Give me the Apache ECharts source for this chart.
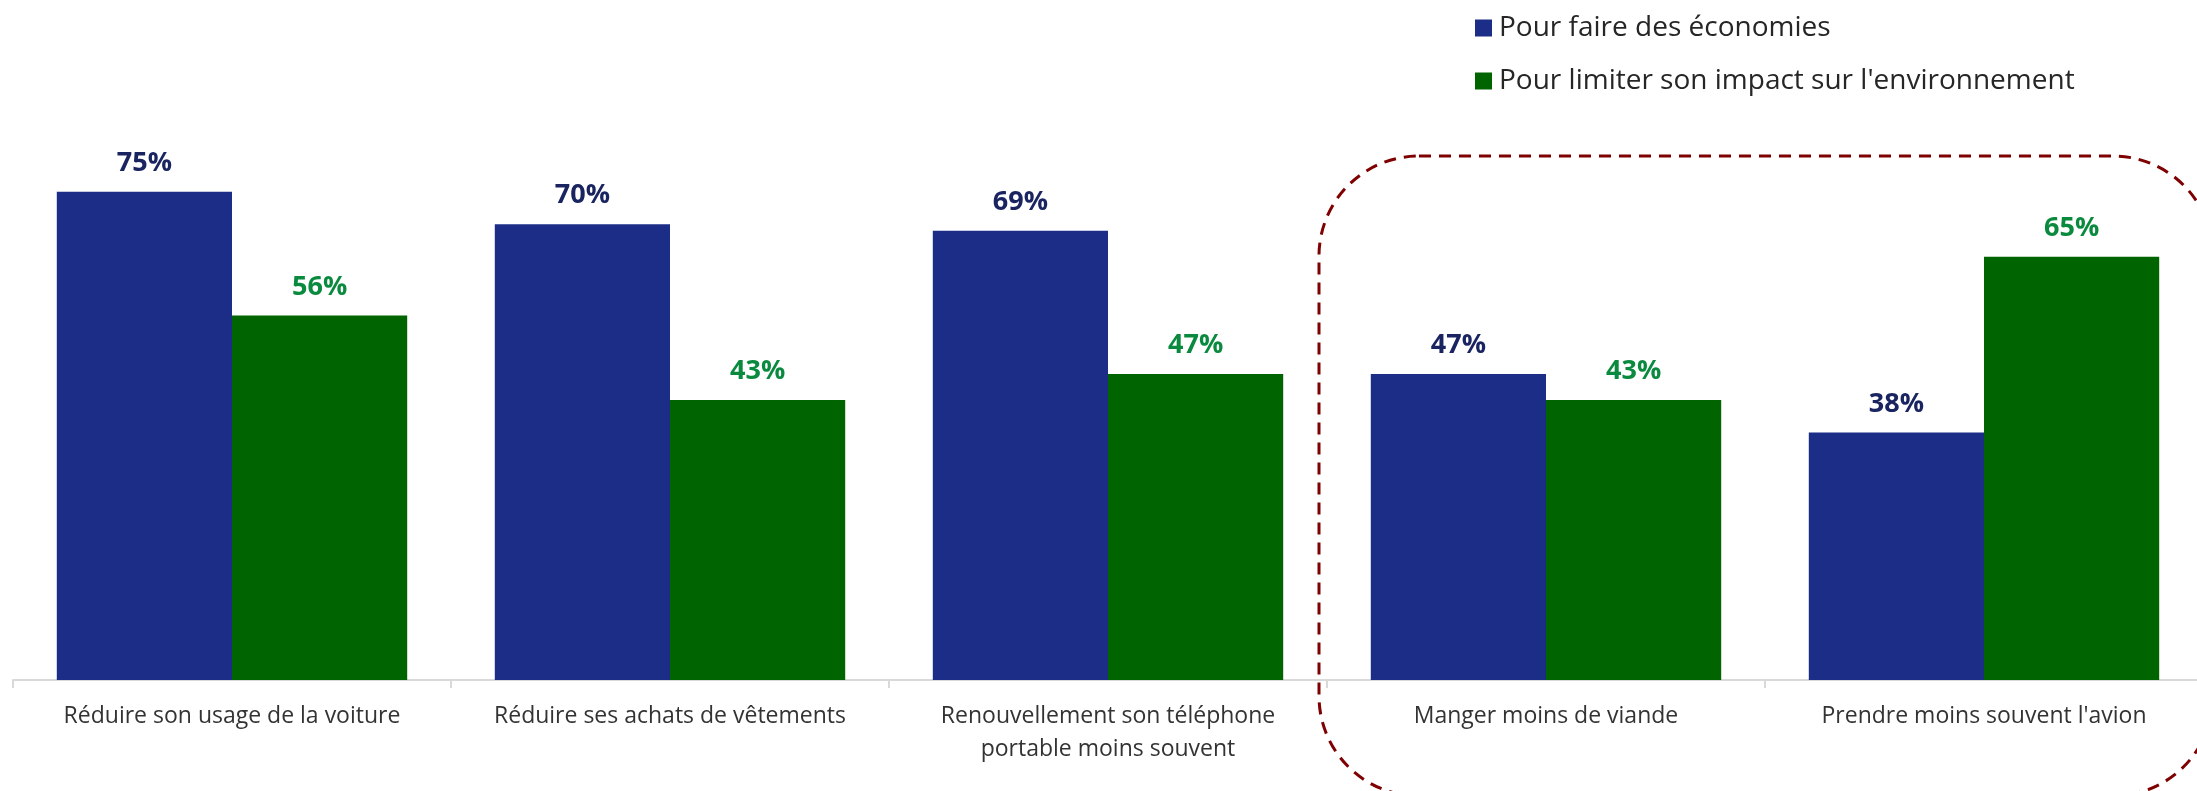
<!DOCTYPE html>
<html>
<head>
<meta charset="utf-8">
<script src="https://cdn.jsdelivr.net/npm/echarts@6/dist/echarts.min.js"></script>
<style>html,body{margin:0;padding:0;background:#fff}#c{width:2197px;height:791px}</style>
</head>
<body>
<div id="c"></div>
<script>
const categories = [
  "Réduire son usage de la voiture",
  "Réduire ses achats de vêtements",
  "Renouvellement son téléphone\nportable moins souvent",
  "Manger moins de viande",
  "Prendre moins souvent l'avion"
];
const seriesNames = ["Pour faire des économies", "Pour limiter son impact sur l'environnement"];
const economies = [75, 70, 69, 47, 38];
const environnement = [56, 43, 47, 43, 65];

const chart = echarts.init(document.getElementById('c'), null, {renderer: 'canvas'});
const FONT = '"Open Sans", "Noto Sans", sans-serif';
chart.setOption({
  animation: false,
  backgroundColor: '#ffffff',
  legend: {
    orient: 'vertical',
    left: 1470,
    top: 6,
    icon: 'rect',
    itemWidth: 17,
    itemHeight: 17,
    itemGap: 19,
    textStyle: {fontFamily: FONT, fontSize: 28, color: '#262626', lineHeight: 34, padding: [0,0,0,2]},
    data: seriesNames
  },
  grid: {left: 13, width: 2190, top: 29, bottom: 111, containLabel: false, outerBoundsMode: 'none'},
  xAxis: {
    type: 'category',
    data: categories,
    axisLine: {show: true, lineStyle: {color: '#d9d9d9', width: 2}},
    axisTick: {show: true, length: 8, lineStyle: {color: '#d9d9d9', width: 2}},
    axisLabel: {fontFamily: FONT, fontSize: 23, color: '#333333', lineHeight: 33, margin: 20, interval: 0}
  },
  yAxis: {type: 'value', min: 0, max: 100, show: false, splitLine: {show: false}},
  series: [
    {
      name: seriesNames[0], type: 'bar', data: economies,
      barGap: '0%', barCategoryGap: '20%',
      itemStyle: {color: '#1b2d86'},
      label: {show: true, position: 'top', distance: 15, formatter: '{c}%',
        fontFamily: FONT, fontWeight: 'bold', fontSize: 27, color: '#1a2460'}
    },
    {
      name: seriesNames[1], type: 'bar', data: environnement,
      barGap: '0%', barCategoryGap: '20%',
      itemStyle: {color: '#006400'},
      label: {show: true, position: 'top', distance: 15, formatter: '{c}%',
        fontFamily: FONT, fontWeight: 'bold', fontSize: 27, color: '#0a8a3e'}
    }
  ],
  graphic: [
    {
      type: 'rect', z: 100, silent: true,
      shape: {x: 1319, y: 156, width: 894, height: 640, r: 100},
      style: {fill: 'none', stroke: '#7f0000', lineWidth: 3, lineDash: [12, 8]}
    }
  ]
});
</script>
</body>
</html>
